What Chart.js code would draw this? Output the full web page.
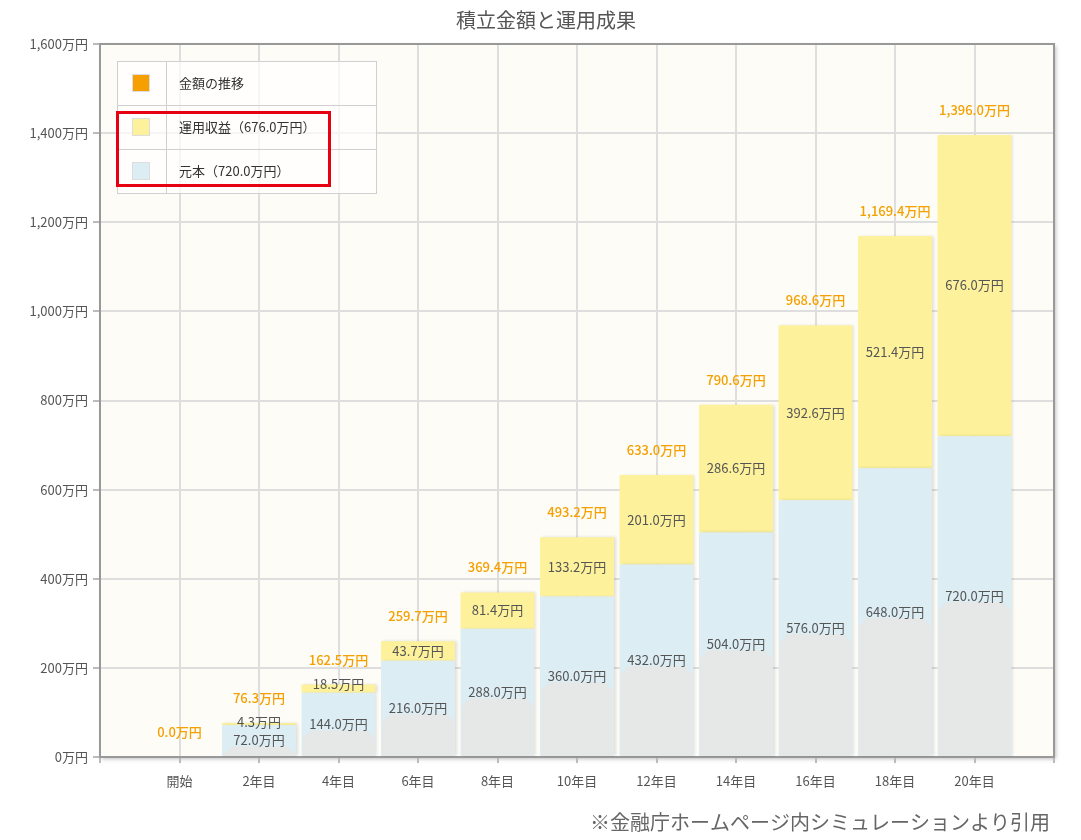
<!DOCTYPE html>
<html lang="ja">
<head>
<meta charset="utf-8">
<title>積立金額と運用成果</title>
<script src="https://cdn.jsdelivr.net/npm/chart.js@4/dist/chart.umd.min.js"></script>
<style>
  html, body { margin: 0; padding: 0; background: #fff; }
  #wrap { width: 1081px; height: 840px; }
</style>
</head>
<body>
<div id="wrap"><canvas id="fundChart"></canvas></div>
<script>
const categories = ["開始", "2年目", "4年目", "6年目", "8年目", "10年目", "12年目", "14年目", "16年目", "18年目", "20年目"];
const principal = [0, 72, 144, 216, 288, 360, 432, 504, 576, 648, 720];
const gains = [0, 4.3, 18.5, 43.7, 81.4, 133.2, 201.0, 286.6, 392.6, 521.4, 676.0];
const totals = [0, 76.3, 162.5, 259.7, 369.4, 493.2, 633.0, 790.6, 968.6, 1169.4, 1396.0];
const yTicks = [0, 200, 400, 600, 800, 1000, 1200, 1400, 1600];
const legendLabels = ["金額の推移", "運用収益（676.0万円）", "元本（720.0万円）"];
const titleText = "積立金額と運用成果";
const sourceText = "※金融庁ホームページ内シミュレーションより引用";

const FONT = "'Noto Sans CJK JP', 'Noto Sans', sans-serif";
const ORANGE = "#f5a000";
const YELLOW = "#fdf29b";
const BLUE = "#ddedf4";
const GREY = "#e5e8e6";
const legendColors = [ORANGE, YELLOW, BLUE];

// pad one empty slot on each side, like the original
const xLabels = ["", ...categories, ""];
const pad = (arr) => [null, ...arr, null];

function man(v) {
  return v.toLocaleString("en-US", { minimumFractionDigits: 1, maximumFractionDigits: 1 }) + "万円";
}

const frame = {
  id: "frame",
  beforeDraw(chart) {
    const { ctx, chartArea: a } = chart;
    ctx.save();
    ctx.shadowColor = "rgba(0,0,0,0.25)";
    ctx.shadowBlur = 4;
    ctx.shadowOffsetX = 2;
    ctx.shadowOffsetY = 2;
    ctx.fillStyle = "#fdfcf6";
    ctx.fillRect(a.left, a.top, a.right - a.left, a.bottom - a.top);
    ctx.restore();
  },
  beforeDatasetsDraw(chart) {
    const ctx = chart.ctx;
    ctx.save();
    ctx.shadowColor = "rgba(0,0,0,0.12)";
    ctx.shadowBlur = 3;
    ctx.shadowOffsetX = 2;
  },
  afterDatasetsDraw(chart) {
    const ctx = chart.ctx;
    ctx.restore();
    const a = chart.chartArea;

    // grey lower part inside each principal bar
    const base = chart.getDatasetMeta(0);
    ctx.save();
    ctx.fillStyle = GREY;
    base.data.forEach((bar, i) => {
      const v = chart.data.datasets[0].data[i];
      if (!v) return;
      const w = bar.width, l = bar.x - w / 2 + 1, r = bar.x + w / 2 - 1;
      const top = (bar.y + bar.base) / 2 + 6;
      const h = bar.base - top;
      const c = Math.min(8, h);
      ctx.beginPath();
      ctx.moveTo(l, bar.base);
      ctx.lineTo(l, top + c);
      ctx.lineTo(l + c, top);
      ctx.lineTo(r - c, top);
      ctx.lineTo(r, top + c);
      ctx.lineTo(r, bar.base);
      ctx.closePath();
      ctx.fill();
    });
    ctx.restore();

    // segment labels and totals
    ctx.save();
    ctx.textAlign = "center";
    ctx.textBaseline = "middle";
    ctx.font = "13px " + FONT;
    ctx.fillStyle = "#555";
    [0, 1].forEach((d) => {
      const meta = chart.getDatasetMeta(d);
      meta.data.forEach((bar, i) => {
        const v = chart.data.datasets[d].data[i];
        if (!v) return;
        let y = (bar.y + bar.base) / 2;
        if (d === 1 && bar.base - bar.y < 14) y = bar.y - 1;
        ctx.fillText(man(v), bar.x, y);
      });
    });
    const top = chart.getDatasetMeta(1);
    const yScale = chart.scales.y;
    ctx.fillStyle = ORANGE;
    ctx.font = "500 13px " + FONT;
    top.data.forEach((bar, i) => {
      const t = chart.data.datasets[2].data[i];
      if (t === null) return;
      ctx.fillText(man(t), bar.x, yScale.getPixelForValue(t) - 25);
    });
    ctx.restore();

    // top and right border
    ctx.save();
    ctx.strokeStyle = "#999";
    ctx.lineWidth = 2;
    ctx.beginPath();
    ctx.moveTo(a.left, a.top);
    ctx.lineTo(a.right, a.top);
    ctx.lineTo(a.right, a.bottom);
    ctx.stroke();
    ctx.restore();
  },
  afterDraw(chart) {
    const ctx = chart.ctx;
    ctx.save();
    // title
    ctx.fillStyle = "#555";
    ctx.font = "20px " + FONT;
    ctx.textAlign = "center";
    ctx.textBaseline = "middle";
    ctx.fillText(titleText, 546, 20);
    // source note
    ctx.fillStyle = "#666";
    ctx.font = "20px " + FONT;
    ctx.textAlign = "right";
    ctx.fillText(sourceText, 1050, 822);

    // legend table
    const lx = 117, ly = 61, lw = 259, rh = 44, col = 49;
    ctx.fillStyle = "rgba(255,255,255,0.7)";
    ctx.fillRect(lx, ly, lw, rh * 3);
    ctx.strokeStyle = "#d0d0d0";
    ctx.lineWidth = 1;
    ctx.strokeRect(lx + 0.5, ly + 0.5, lw, rh * 3);
    ctx.beginPath();
    ctx.moveTo(lx + col + 0.5, ly);
    ctx.lineTo(lx + col + 0.5, ly + rh * 3);
    for (let k = 1; k < 3; k++) {
      ctx.moveTo(lx, ly + rh * k + 0.5);
      ctx.lineTo(lx + lw, ly + rh * k + 0.5);
    }
    ctx.stroke();
    ctx.font = "13px " + FONT;
    ctx.textAlign = "left";
    legendLabels.forEach((lab, k) => {
      const cy = ly + rh * k + rh / 2;
      ctx.fillStyle = "#ddd";
      ctx.fillRect(lx + 15, cy - 9, 18, 18);
      ctx.fillStyle = legendColors[k];
      ctx.fillRect(lx + 16, cy - 8, 16, 16);
      ctx.fillStyle = "#333";
      ctx.fillText(lab, lx + 62, cy);
    });

    // red highlight box
    ctx.strokeStyle = "#e60012";
    ctx.lineWidth = 3;
    ctx.strokeRect(117.5, 112.5, 212, 73);
    ctx.restore();
  }
};

document.addEventListener("DOMContentLoaded", function () {
  const canvas = document.getElementById("fundChart");
  const ctx = canvas.getContext("2d");
  new Chart(ctx, {
    type: "bar",
    data: {
      labels: xLabels,
      datasets: [
        { label: legendLabels[2], data: pad(principal), backgroundColor: BLUE, stack: "s" },
        { label: legendLabels[1], data: pad(gains), backgroundColor: YELLOW, stack: "s" },
        { label: legendLabels[0], data: pad(totals), hidden: true, stack: "t" },
      ],
    },
    options: {
      responsive: true,
      maintainAspectRatio: false,
      animation: false,
      layout: { padding: { top: 44, left: 0, right: 27, bottom: 0 } },
      datasets: { bar: { categoryPercentage: 0.93, barPercentage: 1, grouped: false } },
      scales: {
        x: {
          stacked: true,
          offset: false,
          grid: { offset: false, color: "#dedede", lineWidth: 2, tickLength: 6, tickColor: "#bbb" },
          border: { color: "#999", width: 2 },
          ticks: { color: "#555", font: { family: FONT, size: 13 }, padding: 10, maxRotation: 0, autoSkip: false },
          afterFit(scale) { scale.height = 83; },
        },
        y: {
          stacked: true,
          min: 0,
          max: 1600,
          grid: { color: "#dedede", lineWidth: 2, tickLength: 7, tickColor: "#bbb" },
          border: { color: "#999", width: 2 },
          afterBuildTicks(scale) { scale.ticks = yTicks.map((v) => ({ value: v })); },
          ticks: {
            color: "#555",
            font: { family: FONT, size: 13 },
            padding: 5,
            callback: (v) => v.toLocaleString("en-US") + "万円",
          },
          afterFit(scale) { scale.width = 100; },
        },
      },
      plugins: {
        legend: { display: false },
        tooltip: { enabled: false },
      },
    },
    plugins: [frame],
  });
});
</script>
</body>
</html>
